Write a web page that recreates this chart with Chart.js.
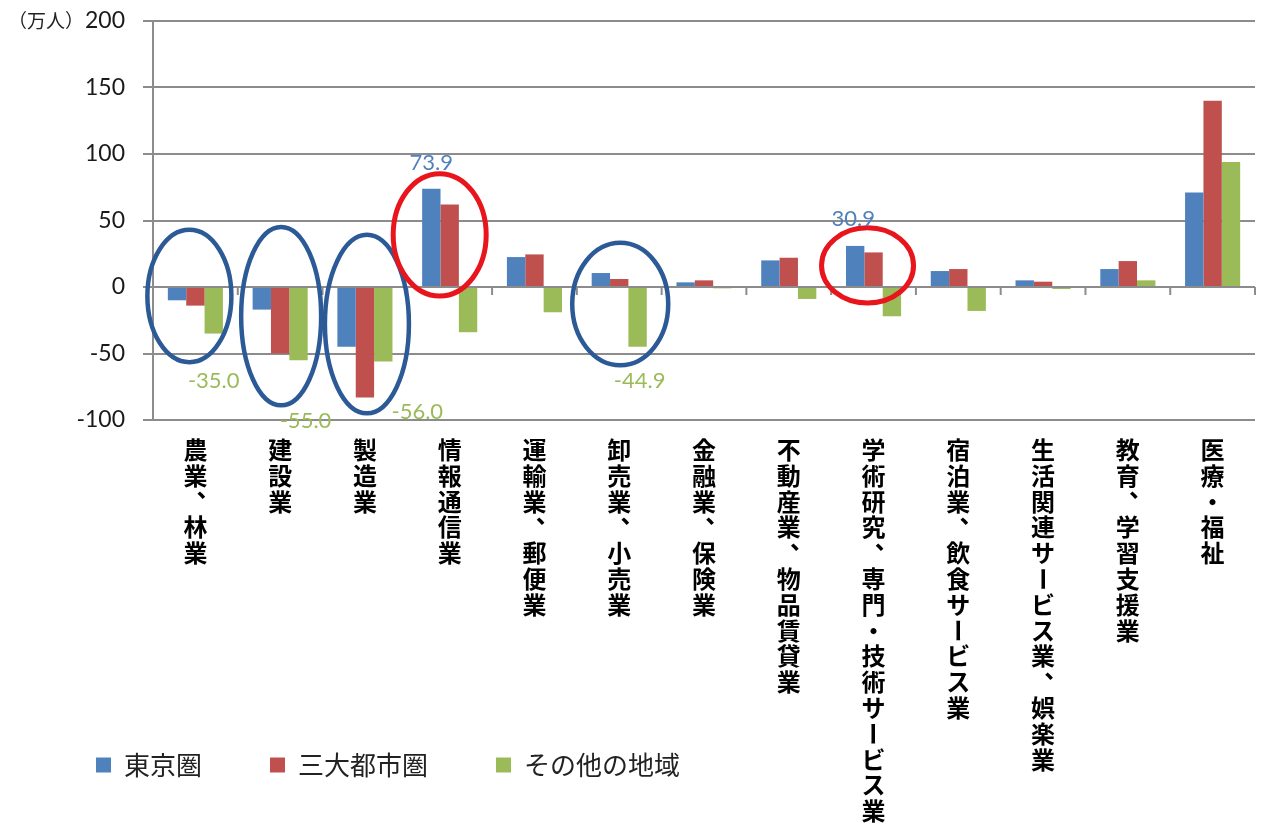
<!DOCTYPE html>
<html><head><meta charset="utf-8">
<script src="https://cdn.jsdelivr.net/npm/chart.js@4.4.1/dist/chart.umd.min.js"></script>
<style>html,body{margin:0;padding:0;background:#fff;}#wrap{width:1261px;height:829px;}</style>
</head><body><div id="wrap"><canvas id="c" width="1261" height="829"></canvas></div>
<script>
// ---- data ----
const categories = ["農業、林業","建設業","製造業","情報通信業","運輸業、郵便業","卸売業、小売業","金融業、保険業","不動産業、物品賃貸業","学術研究、専門・技術サービス業","宿泊業、飲食サービス業","生活関連サービス業、娯楽業","教育、学習支援業","医療・福祉"];
const seriesNames = ["東京圏","三大都市圏","その他の地域"];
const tokyo  = [-10, -17, -45, 73.9, 22.5, 10.5, 3.5, 20, 30.9, 12, 5, 13.5, 71];
const sandai = [-14, -50, -83, 62, 24.5, 6, 5, 22, 26, 13.5, 4, 19.5, 140];
const other  = [-35.0, -55.0, -56.0, -34, -19, -44.9, -1, -9, -22, -18, -1.5, 5, 94];
const yMin = -100, yMax = 200, yStep = 50;
const yUnit = "（万人）";

// ---- annotation config (styles / offsets) ----
const colors = ['#4f81bd', '#c0504d', '#9bbb59'];
const valueLabels = [
  {s:0, c:3, dx:0, dy:-26},
  {s:0, c:8, dx:-2, dy:-27},
  {s:2, c:0, dx:0, dy:47},
  {s:2, c:1, dx:7, dy:61},
  {s:2, c:2, dx:34, dy:50},
  {s:2, c:5, dx:2, dy:34}
];
const highlights = [
  {cat:0, top:43, bottom:-56.5, dx:-6, rx:42, color:'#2c5a96', w:4.5},
  {cat:1, top:45.2, bottom:-89, dx:1, rx:40, color:'#2c5a96', w:4.5},
  {cat:2, top:39.2, bottom:-95, dx:2, rx:42, color:'#2c5a96', w:4.5},
  {cat:3, top:85.2, bottom:-6.8, dx:-10, rx:46.5, color:'#e8161c', w:5},
  {cat:5, top:33.2, bottom:-58.8, dx:1, rx:48, color:'#2c5a96', w:4.5},
  {cat:8, top:44.5, bottom:-12, dx:-6, rx:46, color:'#e8161c', w:5}
];

const annot = {
  id: 'annot',
  afterDatasetsDraw(chart) {
    const {ctx, scales:{x, y}} = chart;
    const y0 = y.getPixelForValue(0);
    ctx.save();
    ctx.strokeStyle = '#8c8c8c'; ctx.lineWidth = 2;
    const n = categories.length;
    for (let k = 1; k <= n; k++) {
      const xp = x.left + k * x.width / n;
      ctx.beginPath(); ctx.moveTo(xp, y0); ctx.lineTo(xp, y0 + 8); ctx.stroke();
    }
    ctx.restore();
    highlights.forEach(h => {
      const cx = x.getPixelForValue(h.cat) + h.dx;
      const yt = y.getPixelForValue(h.top), yb = y.getPixelForValue(h.bottom);
      ctx.save();
      ctx.beginPath();
      ctx.ellipse(cx, (yt + yb) / 2, h.rx, (yb - yt) / 2, 0, 0, Math.PI * 2);
      ctx.lineWidth = h.w; ctx.strokeStyle = h.color; ctx.stroke();
      ctx.restore();
    });
    ctx.save();
    ctx.font = '22px Lato';
    ctx.textAlign = 'center'; ctx.textBaseline = 'middle';
    valueLabels.forEach(l => {
      const el = chart.getDatasetMeta(l.s).data[l.c];
      const v = chart.data.datasets[l.s].data[l.c];
      ctx.fillStyle = colors[l.s];
      ctx.fillText(v.toFixed(1), el.x + l.dx, el.y + l.dy);
    });
    ctx.restore();
  },
  afterDraw(chart) {
    const {ctx, scales:{x, y}, chartArea} = chart;
    ctx.save();
    ctx.font = '19px "Noto Sans CJK JP"';
    ctx.fillStyle = '#222'; ctx.textAlign = 'left'; ctx.textBaseline = 'middle';
    ctx.fillText(yUnit, 8, y.getPixelForValue(yMax));
    const fs = 24, step = 25.8, top0 = chartArea.bottom + 17;
    ctx.font = 'bold ' + fs + 'px "Noto Sans CJK JP"';
    ctx.fillStyle = '#000'; ctx.textAlign = 'center'; ctx.textBaseline = 'middle';
    categories.forEach((lab, i) => {
      const cx = x.getPixelForValue(i);
      [...lab].forEach((ch, k) => {
        const cy = top0 + step * (k + 0.5);
        if (ch === 'ー') {
          ctx.save(); ctx.translate(cx, cy); ctx.rotate(Math.PI / 2); ctx.fillText(ch, 0, 0); ctx.restore();
        } else if (ch === '、') {
          ctx.fillText(ch, cx + 0.55 * fs, cy - 0.55 * fs);
        } else {
          ctx.fillText(ch, cx, cy);
        }
      });
    });
    ctx.restore();
  }
};

new Chart(document.getElementById('c'), {
  type: 'bar',
  data: {
    labels: categories,
    datasets: [
      {label: seriesNames[0], data: tokyo,  backgroundColor: colors[0], borderWidth: 0},
      {label: seriesNames[1], data: sandai, backgroundColor: colors[1], borderWidth: 0},
      {label: seriesNames[2], data: other,  backgroundColor: colors[2], borderWidth: 0}
    ]
  },
  options: {
    responsive: false,
    animation: false,
    layout: {padding: {left: 28, right: 6, top: 21, bottom: 41}},
    datasets: {bar: {categoryPercentage: 0.65, barPercentage: 1.0}},
    plugins: {
      legend: {
        position: 'bottom', align: 'start',
        labels: {font: {family: '"Noto Sans CJK JP"', size: 26}, color: '#222', boxWidth: 15, boxHeight: 15, padding: 68}
      },
      tooltip: {enabled: false}
    },
    scales: {
      x: {
        grid: {display: false}, border: {display: false}, ticks: {display: false},
        afterFit(s) { s.height = 264; s.paddingLeft = 0; s.paddingRight = 0; }
      },
      y: {
        min: yMin, max: yMax,
        ticks: {stepSize: yStep, padding: 18, font: {family: 'Lato', size: 23}, color: '#1a1a1a'},
        grid: {color: '#8c8c8c', lineWidth: 2, tickLength: 10},
        border: {color: '#8c8c8c', width: 2},
        afterFit(s) { s.width = 125; s.paddingTop = 0; s.paddingBottom = 0; }
      }
    }
  },
  plugins: [annot]
});
</script>
</body></html>
